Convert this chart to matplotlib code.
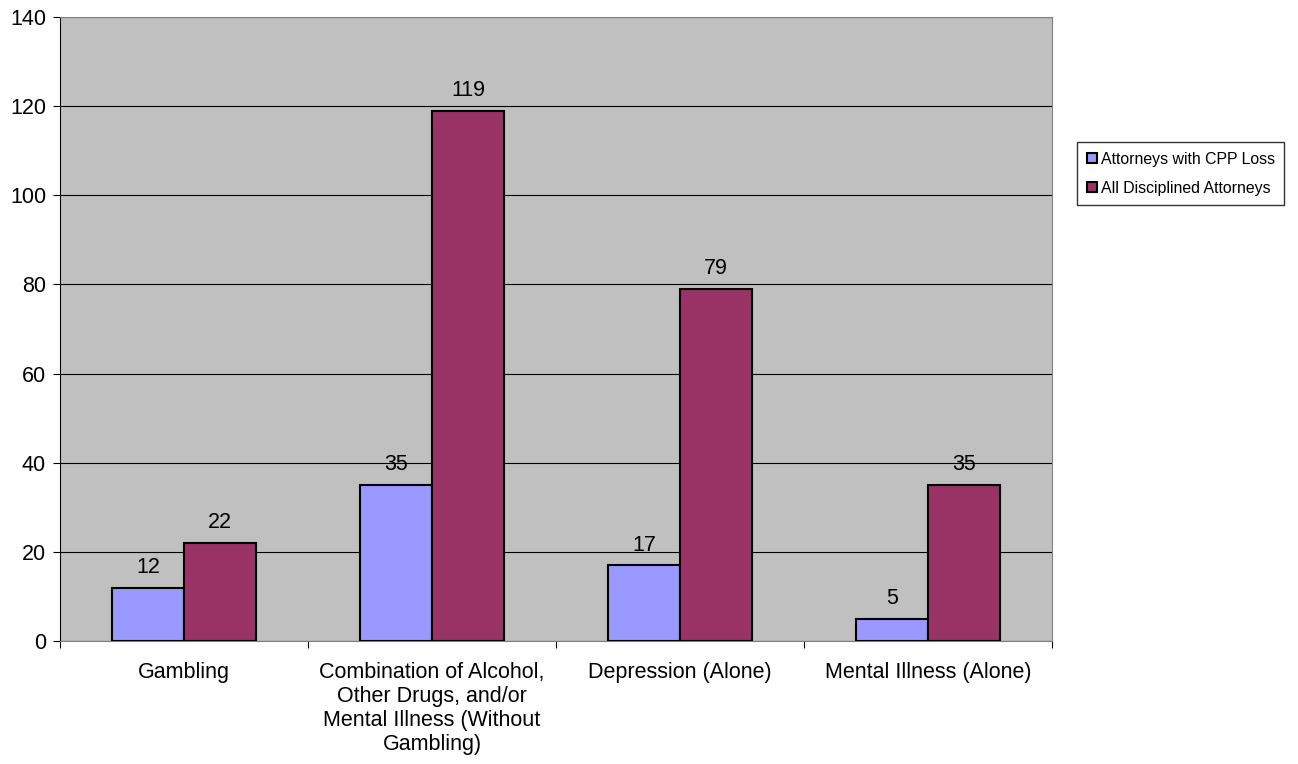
import matplotlib
matplotlib.use('Agg')
import matplotlib.pyplot as plt
import numpy

plt.rcParams['font.family'] = ['Liberation Sans', 'DejaVu Sans']

categories = ['Gambling',
              'Combination of Alcohol,\nOther Drugs, and/or\nMental Illness (Without\nGambling)',
              'Depression (Alone)',
              'Mental Illness (Alone)']
cpp_loss = [12, 35, 17, 5]
all_disciplined = [22, 119, 79, 35]
series_names = ['Attorneys with CPP Loss', 'All Disciplined Attorneys']

fig = plt.figure(figsize=(12.98, 7.64), dpi=100)
ax = fig.add_axes([0.0462, 0.161, 0.7643, 0.8167])
ax.set_facecolor('#c0c0c0')

x = numpy.arange(len(categories))
w = 0.29
b1 = ax.bar(x - w/2, cpp_loss, w, color='#9999ff', edgecolor='black', linewidth=1.5,
            label=series_names[0], zorder=3)
b2 = ax.bar(x + w/2, all_disciplined, w, color='#993366', edgecolor='black', linewidth=1.5,
            label=series_names[1], zorder=3)
for bars in (b1, b2):
    for r in bars:
        ax.annotate(str(int(r.get_height())), (r.get_x() + r.get_width()/2, r.get_height()),
                    xytext=(0, 7), textcoords='offset points', ha='center', va='bottom',
                    fontsize=15.5)

ax.set_xlim(-0.5, 3.5)
ax.set_ylim(0, 140)
ax.set_yticks(range(0, 141, 20))
ax.yaxis.grid(True, color='black', linewidth=0.8, zorder=0)
ax.set_axisbelow(True)

ax.set_xticks(numpy.arange(-0.5, 4, 1))
ax.set_xticklabels([])
ax.set_xticks(x, minor=True)
ax.set_xticklabels(categories, minor=True, fontsize=15.5)
ax.tick_params(axis='x', which='minor', length=0, pad=15)
ax.tick_params(axis='x', which='major', length=5, direction='out')
ax.tick_params(axis='y', length=5, direction='out', labelsize=15.5, pad=5)

for s in ('top', 'right'):
    ax.spines[s].set_color('#808080')
ax.spines['left'].set_color('black')
ax.spines['bottom'].set_color('#808080')

leg = ax.legend(loc='upper left', bbox_to_anchor=(1.0252, 0.7997), borderaxespad=0,
                fontsize=11.4, frameon=True, fancybox=False, edgecolor='black',
                handlelength=0.65, handleheight=0.65, handletextpad=0.25,
                borderpad=0.6, labelspacing=0.9)
leg.get_frame().set_linewidth(1.0)

fig.savefig('out.png', dpi=100)
